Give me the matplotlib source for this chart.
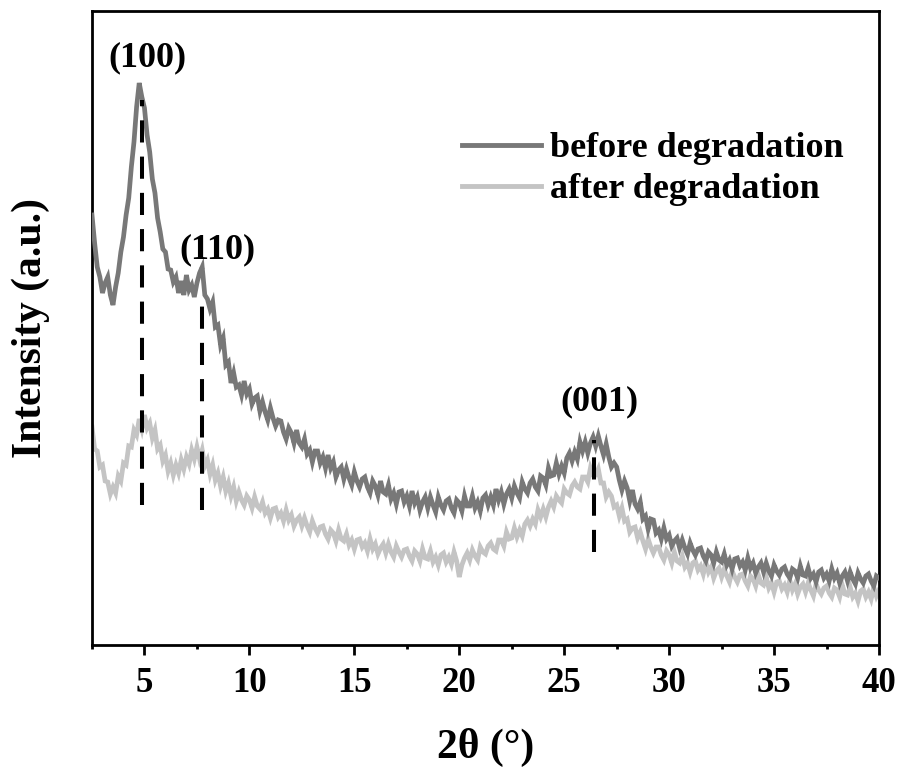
import numpy as np
import matplotlib
matplotlib.use("Agg")
import matplotlib.pyplot as plt

# ---- data (0.125 deg steps) ----
two_theta = np.arange(2.5, 40.001, 0.125)

before = [
    430, 402, 378, 368, 352, 362, 368, 350,
    340, 358, 372, 393, 408, 430, 447, 478,
    503, 538, 562, 548, 537, 510, 493, 466,
    452, 427, 413, 396, 393, 376, 375, 363,
    368, 352, 364, 350, 370, 355, 360, 348,
    362, 372, 378, 350, 346, 336, 343, 318,
    320, 300, 307, 280, 283, 262, 272, 258,
    260, 250, 264, 251, 256, 241, 247, 249,
    234, 243, 233, 225, 237, 227, 219, 225,
    224, 213, 206, 217, 212, 202, 215, 202,
    198, 206, 191, 195, 183, 194, 194, 182,
    188, 177, 190, 177, 183, 168, 175, 178,
    166, 176, 167, 160, 173, 164, 158, 166,
    168, 158, 152, 164, 159, 150, 164, 153,
    151, 160, 146, 152, 141, 153, 154, 143,
    149, 139, 154, 142, 148, 135, 143, 148,
    137, 148, 140, 133, 148, 140, 135, 144,
    146, 137, 132, 145, 142, 134, 149, 139,
    139, 149, 137, 143, 134, 147, 150, 140,
    148, 140, 156, 145, 153, 141, 151, 156,
    147, 159, 152, 147, 163, 156, 152, 162,
    166, 158, 154, 169, 167, 160, 177, 169,
    170, 182, 171, 179, 172, 187, 192, 184,
    193, 186, 203, 194, 203, 192, 202, 208,
    199, 209, 199, 190, 201, 188, 178, 182,
    178, 165, 155, 164, 157, 144, 155, 141,
    136, 143, 126, 129, 116, 126, 125, 112,
    115, 106, 117, 106, 110, 99, 104, 107,
    97, 105, 97, 91, 102, 95, 90, 96,
    97, 89, 84, 93, 90, 82, 93, 85,
    83, 91, 80, 85, 76, 86, 87, 79,
    83, 75, 87, 77, 82, 72, 78, 82,
    73, 82, 74, 69, 80, 74, 70, 76,
    78, 71, 67, 76, 74, 67, 79, 70,
    69, 77, 67, 71, 63, 73, 75, 67,
    71, 64, 76, 67, 72, 62, 69, 73,
    64, 73, 66, 61, 72, 66, 62, 69,
    71, 64, 59, 69, 67,
]

after = [
    218, 196, 194, 178, 180, 164, 163, 151,
    158, 152, 169, 164, 182, 180, 199, 198,
    215, 210, 226, 216, 230, 217, 222, 207,
    215, 196, 200, 184, 190, 174, 182, 170,
    180, 172, 185, 176, 188, 181, 195, 186,
    198, 186, 195, 179, 185, 171, 180, 165,
    172, 159, 168, 154, 162, 149, 158, 144,
    153, 145, 140, 149, 145, 137, 148, 139,
    136, 143, 132, 136, 127, 136, 137, 128,
    132, 124, 135, 125, 130, 119, 125, 128,
    119, 127, 119, 113, 124, 117, 112, 118,
    119, 111, 106, 115, 112, 104, 115, 106,
    104, 111, 100, 105, 96, 105, 106, 98,
    102, 94, 106, 96, 101, 91, 97, 101,
    92, 101, 93, 88, 99, 93, 88, 95,
    96, 89, 84, 94, 91, 84, 96, 87,
    86, 94, 83, 88, 80, 90, 92, 83,
    88, 81, 93, 84, 68, 80, 87, 92,
    85, 95, 89, 85, 98, 93, 91, 99,
    102, 96, 94, 105, 105, 99, 113, 106,
    107, 117, 108, 115, 109, 121, 125, 119,
    126, 121, 135, 128, 136, 128, 138, 144,
    138, 149, 145, 142, 156, 152, 150, 159,
    163, 158, 156, 168, 168, 163, 177, 170,
    170, 176, 162, 162, 148, 153, 149, 138,
    140, 129, 137, 124, 126, 113, 117, 118,
    107, 113, 104, 96, 106, 98, 92, 98,
    98, 90, 85, 94, 90, 82, 93, 84,
    82, 89, 78, 82, 73, 82, 84, 75,
    79, 71, 83, 73, 78, 67, 74, 77,
    68, 76, 69, 63, 74, 68, 63, 70,
    71, 64, 59, 69, 66, 59, 70, 62,
    60, 68, 57, 62, 53, 63, 64, 56,
    60, 53, 65, 55, 61, 51, 58, 61,
    53, 62, 55, 49, 61, 55, 51, 57,
    59, 52, 48, 57, 55, 48, 60, 51,
    50, 58, 48, 52, 44, 54, 56, 48,
    53, 46, 58, 49, 55,
]

series_labels = ["before degradation", "after degradation"]
peak_labels = ["(100)", "(110)", "(001)"]
peak_positions = [4.9, 7.75, 26.4]
peak_line_bottom = [140, 135, 93]
peak_line_top = [545, 350, 205]
xticks = [5, 10, 15, 20, 25, 30, 35, 40]

# ---- styling ----
plt.rcParams['font.family'] = ['Liberation Serif', 'DejaVu Serif']
plt.rcParams['font.weight'] = 'bold'

fig = plt.figure(figsize=(9.01, 7.69), dpi=100)
ax = fig.add_axes([92/901, 1 - 645/769, (879-92)/901, (645-11)/769])

c_before = "#787878"
c_after = "#c4c4c4"

ax.plot(two_theta, before, color=c_before, lw=3.4, label=series_labels[0],
        zorder=3, solid_joinstyle='miter')
ax.plot(two_theta, after, color=c_after, lw=3.4, label=series_labels[1],
        zorder=2, solid_joinstyle='miter')

for xp, yb, yt in zip(peak_positions, peak_line_bottom, peak_line_top):
    ax.plot([xp, xp], [yb, yt], color="black", lw=2.9,
            linestyle=(0, (5.5, 3.5)), zorder=4)

label_xy = [(5.12, 587), (8.46, 395), (26.7, 243)]
for txt, (lx, ly) in zip(peak_labels, label_xy):
    ax.text(lx, ly, txt, ha='center', va='center', fontsize=26, fontweight='bold')

ax.set_xlim(2.5, 40)
ax.set_ylim(0, 634)
ax.set_xticks(xticks)
ax.set_xticks(np.arange(2.5, 40.01, 2.5), minor=True)
ax.set_yticks([])
ax.tick_params(axis='x', which='major', direction='out', length=7, width=2,
               labelsize=25, pad=9)
ax.tick_params(axis='x', which='minor', direction='out', length=3, width=2)
for lab in ax.get_xticklabels():
    lab.set_fontweight('bold')
for sp in ax.spines.values():
    sp.set_linewidth(2)

ax.set_xlabel("2θ (°)", fontsize=30, fontweight='bold', labelpad=20)
ax.set_ylabel("Intensity (a.u.)", fontsize=30, fontweight='bold', labelpad=30)

leg = ax.legend(loc='upper left', bbox_to_anchor=((462-92)/787, (645-132)/634),
                frameon=False, handlelength=2.2, handletextpad=0.25,
                labelspacing=0.22, borderpad=0, borderaxespad=0,
                prop={'weight': 'bold', 'size': 26})
for line in leg.get_lines():
    line.set_linewidth(3.5)

fig.savefig("out.png", dpi=100)
